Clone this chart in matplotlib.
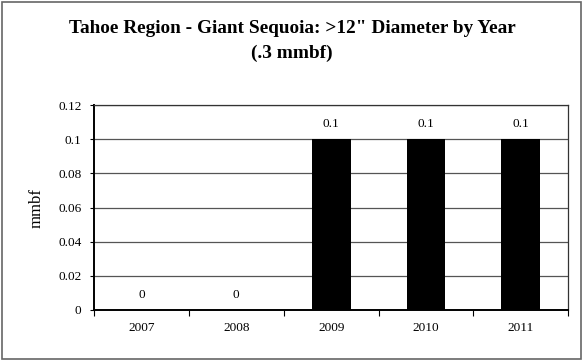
import matplotlib.pyplot as plt
from matplotlib.patches import Rectangle

years = ["2007", "2008", "2009", "2010", "2011"]
volume = [0, 0, 0.1, 0.1, 0.1]
y_ticks = [0, 0.02, 0.04, 0.06, 0.08, 0.1, 0.12]
y_tick_labels = ["0", "0.02", "0.04", "0.06", "0.08", "0.1", "0.12"]

plt.rcParams["font.family"] = ["Liberation Serif", "DejaVu Serif"]

fig = plt.figure(figsize=(5.84, 3.6), dpi=100)
ax = fig.add_axes([0.161, 0.139, 0.812, 0.569])

x = range(len(years))
ax.bar(x, volume, width=0.41, color="black", zorder=3)

for xi, v in zip(x, volume):
    ax.annotate(f"{v:g}", (xi, v), xytext=(0, 11), textcoords="offset points",
                ha="center", va="center", fontsize=9.5)

ax.set_xlim(-0.5, len(years) - 0.5)
ax.set_ylim(0, 0.12)
ax.set_yticks(y_ticks)
ax.set_yticklabels(y_tick_labels, fontsize=9.5)
ax.set_xticks(list(x))
ax.set_xticklabels(years, fontsize=9.5)
ax.tick_params(axis="x", length=0, pad=9)
ax.tick_params(axis="y", length=3, width=0.8, direction="out", pad=6)

# category separators on the x axis
ax.set_xticks([i - 0.5 for i in range(len(years) + 1)], minor=True)
ax.tick_params(axis="x", which="minor", length=4, width=0.8, direction="out")

ax.yaxis.grid(True, color="#555555", linewidth=0.9, zorder=0)
for side in ["left", "bottom"]:
    ax.spines[side].set_linewidth(1.4)
for side in ["right", "top"]:
    ax.spines[side].set_linewidth(0.9)
    ax.spines[side].set_color("#333333")

ax.set_ylabel("mmbf", fontsize=12, labelpad=10)

fig.text(0.5, 0.922, "Tahoe Region - Giant Sequoia: >12\" Diameter by Year",
         ha="center", va="center", fontsize=13.9, fontweight="bold")
fig.text(0.5, 0.853, "(.3 mmbf)", ha="center", va="center",
         fontsize=13.9, fontweight="bold")

fig.patches.append(Rectangle((0.003, 0.004), 0.992, 0.99, transform=fig.transFigure,
                             fill=False, edgecolor="#666666", linewidth=1.2))

fig.savefig("out.png", dpi=100)
